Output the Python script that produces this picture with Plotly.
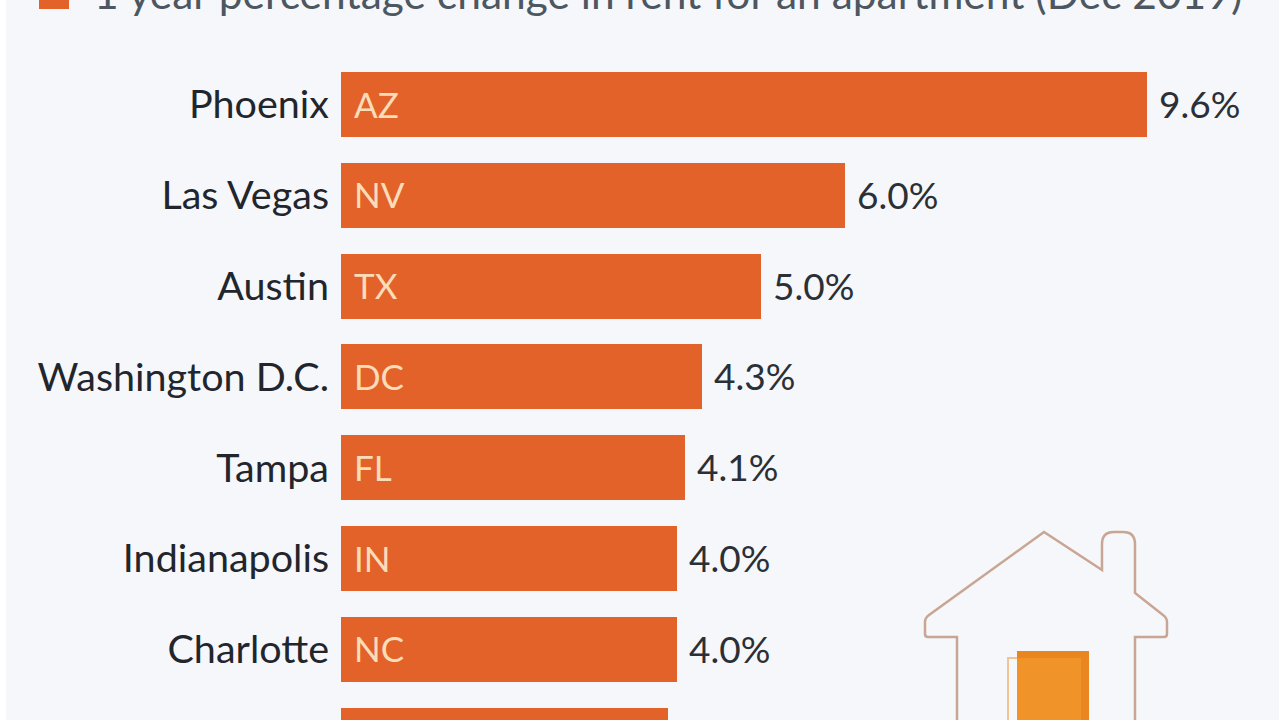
import plotly.graph_objects as go

# The eighth row is cut off by the bottom edge in the reference; its name and state cannot be read.
cities = ["Phoenix", "Las Vegas", "Austin", "Washington D.C.", "Tampa", "Indianapolis", "Charlotte", " "]
states = ["AZ", "NV", "TX", "DC", "FL", "IN", "NC", ""]
values = [9.6, 6.0, 5.0, 4.3, 4.1, 4.0, 4.0, 3.9]
legend_text = "1 year percentage change in rent for an apartment (Dec 2019)"

W, H = 1279, 720
BAR = "#e2622a"
FONT = "Lato, 'Open Sans', sans-serif"
X0 = 341
PX_PER_UNIT = 83.96
ROW0, PITCH = 104.5, 90.83

fig = go.Figure(go.Bar(
    x=values, y=cities, orientation="h", width=65 / PITCH,
    marker=dict(color=BAR, line=dict(width=0)), hoverinfo="skip",
))

annotations = []
for c, s, v in zip(cities, states, values):
    if s:
        annotations.append(dict(x=0, y=c, text=s, xref="x", yref="y", xanchor="left", xshift=11, yshift=1,
                                yanchor="middle", showarrow=False,
                                font=dict(family=FONT, size=35, color="#fbdcb8")))
    annotations.append(dict(x=v, y=c, text=f"{v:.1f}%", xref="x", yref="y", xanchor="left", xshift=10, yshift=1,
                            yanchor="middle", showarrow=False, font=dict(family=FONT, size=37, color="#2b2f36")))
annotations.append(dict(x=92 / W, y=1 + 35.5 / H, xref="paper", yref="paper", text=legend_text, xanchor="left",
                        yanchor="top", showarrow=False, font=dict(family=FONT, size=42.5, color="#4d5761")))


def xf(p):
    return p / W


def yf(p):
    return 1 - p / H


def pt(x, y):
    return f"{xf(x):.5f},{yf(y):.5f}"


def rect(x0, y0, x1, y1, color, layer="below"):
    return dict(type="rect", xref="paper", yref="paper", x0=xf(x0), x1=xf(x1), y0=yf(y0), y1=yf(y1),
                fillcolor=color, line=dict(width=0), layer=layer)


house_path = (
    f"M {pt(957, 725)} L {pt(957, 637)} L {pt(928, 637)} Q {pt(925, 637)} {pt(925, 634)} "
    f"L {pt(925, 622)} Q {pt(925, 618)} {pt(929, 615)} L {pt(1044, 532)} L {pt(1102, 570)} "
    f"L {pt(1102, 544)} Q {pt(1102, 532)} {pt(1114, 532)} L {pt(1123, 532)} Q {pt(1135, 532)} {pt(1135, 544)} "
    f"L {pt(1135, 593)} L {pt(1163, 615)} Q {pt(1167, 618)} {pt(1167, 622)} L {pt(1167, 634)} "
    f"Q {pt(1167, 637)} {pt(1164, 637)} L {pt(1135, 637)} L {pt(1135, 725)}"
)
door_path = f"M {pt(1008, 725)} L {pt(1008, 658)} L {pt(1017, 658)}"

shapes = [
    rect(6, -5, W, H + 5, "#f5f7fa"),
    rect(39, -5, 69, 9, BAR),
    dict(type="path", xref="paper", yref="paper", path=house_path, line=dict(color="#c9a593", width=2.5)),
    dict(type="path", xref="paper", yref="paper", path=door_path, line=dict(color="#f3c493", width=2)),
    rect(1017, 651, 1089, 725, "#e9861f"),
    rect(1017, 658, 1081, 725, "#f09429"),
]

fig.update_layout(
    width=W, height=H, autosize=False,
    margin=dict(l=0, r=0, t=0, b=0, pad=0),
    paper_bgcolor="#ffffff", plot_bgcolor="rgba(0,0,0,0)",
    showlegend=False, bargap=0,
    xaxis=dict(domain=[X0 / W, 1], range=[0, (W - X0) / PX_PER_UNIT], visible=False, fixedrange=True),
    yaxis=dict(categoryorder="array", categoryarray=cities,
               range=[(H - ROW0) / PITCH, -ROW0 / PITCH], showgrid=False, zeroline=False, showline=False,
               ticks="", ticklabelstandoff=11, automargin=False, fixedrange=True,
               tickfont=dict(family=FONT, size=39.5, color="#22262c")),
    shapes=shapes, annotations=annotations,
)

fig.write_html("out.html", config={"displayModeBar": False},
               post_script="document.body.style.margin='0';document.body.style.overflow='hidden';")
